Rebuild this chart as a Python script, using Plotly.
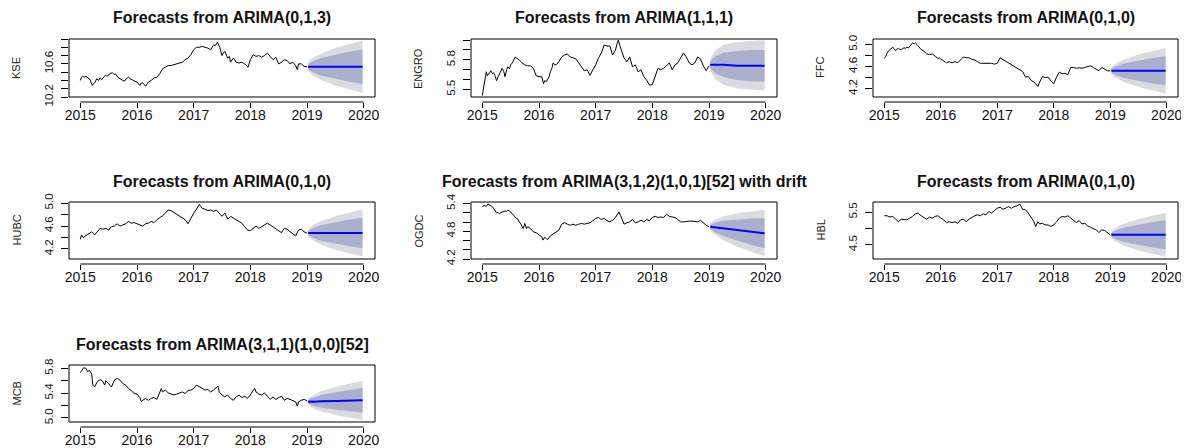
import plotly.graph_objects as go

# page body has an 8px margin, so the figure is offset by 8px in the 1189x448 window
OFF = 8
FW, FH = 1181, 440

# ---------------- data ----------------
KSE_t = [2015.0, 2015.02, 2015.04, 2015.07, 2015.1, 2015.14, 2015.17, 2015.21, 2015.24, 2015.26,
         2015.29, 2015.32, 2015.35, 2015.38, 2015.41, 2015.44, 2015.47, 2015.5, 2015.54, 2015.57,
         2015.6, 2015.62, 2015.66, 2015.7, 2015.74, 2015.78, 2015.81, 2015.85, 2015.88, 2015.92,
         2015.96, 2016.0, 2016.03, 2016.05, 2016.08, 2016.1, 2016.13, 2016.15, 2016.18, 2016.2,
         2016.25, 2016.3, 2016.35, 2016.4, 2016.45, 2016.5, 2016.55, 2016.6, 2016.65, 2016.7,
         2016.75, 2016.8, 2016.85, 2016.9, 2016.95, 2017.0, 2017.05, 2017.1, 2017.15, 2017.2,
         2017.25, 2017.3, 2017.35, 2017.38, 2017.42, 2017.46, 2017.5, 2017.53, 2017.55, 2017.6,
         2017.63, 2017.65, 2017.7, 2017.75, 2017.8, 2017.85, 2017.9, 2017.96, 2018.0, 2018.05,
         2018.1, 2018.15, 2018.2, 2018.25, 2018.3, 2018.35, 2018.4, 2018.45, 2018.5, 2018.55,
         2018.6, 2018.65, 2018.7, 2018.75, 2018.8, 2018.83, 2018.85, 2018.9, 2018.95, 2019.0]
KSE_v = [10.40, 10.44, 10.45, 10.44, 10.45, 10.43, 10.41, 10.34, 10.36, 10.38,
         10.42, 10.40, 10.43, 10.41, 10.44, 10.46, 10.45, 10.47, 10.49, 10.49,
         10.47, 10.48, 10.44, 10.42, 10.40, 10.39, 10.42, 10.44, 10.42, 10.40,
         10.39, 10.38, 10.36, 10.34, 10.37, 10.37, 10.35, 10.33, 10.36, 10.38,
         10.40, 10.43, 10.44, 10.48, 10.54, 10.56, 10.58, 10.58, 10.59, 10.60,
         10.61, 10.62, 10.65, 10.67, 10.71, 10.77, 10.80, 10.80, 10.81, 10.80,
         10.79, 10.77, 10.83, 10.82, 10.86, 10.80, 10.70, 10.74, 10.75, 10.67,
         10.69, 10.62, 10.67, 10.62, 10.61, 10.62, 10.60, 10.56, 10.65, 10.71,
         10.69, 10.70, 10.68, 10.70, 10.73, 10.69, 10.65, 10.68, 10.60, 10.62,
         10.65, 10.64, 10.60, 10.62, 10.58, 10.53, 10.60, 10.60, 10.57, 10.565]

ENGRO_t = [2015.0, 2015.02, 2015.04, 2015.05, 2015.07, 2015.09, 2015.1, 2015.13, 2015.15, 2015.18,
           2015.2, 2015.23, 2015.25, 2015.28, 2015.3, 2015.33, 2015.35, 2015.38, 2015.4, 2015.43,
           2015.45, 2015.48, 2015.5, 2015.53, 2015.55, 2015.58, 2015.6, 2015.63, 2015.65, 2015.7,
           2015.75, 2015.8, 2015.85, 2015.9, 2015.93, 2015.95, 2016.0, 2016.05, 2016.08, 2016.1,
           2016.13, 2016.15, 2016.18, 2016.2, 2016.23, 2016.25, 2016.28, 2016.3, 2016.35, 2016.4,
           2016.45, 2016.5, 2016.55, 2016.6, 2016.65, 2016.7, 2016.75, 2016.78, 2016.8, 2016.85,
           2016.88, 2016.9, 2016.95, 2017.0, 2017.05, 2017.1, 2017.15, 2017.2, 2017.25, 2017.3,
           2017.33, 2017.35, 2017.38, 2017.4, 2017.43, 2017.45, 2017.5, 2017.53, 2017.55, 2017.6,
           2017.63, 2017.65, 2017.7, 2017.73, 2017.75, 2017.8, 2017.83, 2017.85, 2017.9, 2017.95,
           2018.0, 2018.05, 2018.1, 2018.15, 2018.2, 2018.25, 2018.3, 2018.35, 2018.4, 2018.45,
           2018.5, 2018.55, 2018.6, 2018.65, 2018.7, 2018.75, 2018.8, 2018.85, 2018.9, 2018.95,
           2019.0]
ENGRO_v = [5.44, 5.51, 5.56, 5.60, 5.68, 5.64, 5.65, 5.68, 5.69, 5.66,
           5.67, 5.63, 5.59, 5.63, 5.65, 5.69, 5.715, 5.68, 5.63, 5.70,
           5.73, 5.71, 5.75, 5.77, 5.79, 5.83, 5.82, 5.81, 5.80, 5.77,
           5.75, 5.74, 5.74, 5.715, 5.68, 5.64, 5.63, 5.63, 5.56, 5.59,
           5.58, 5.595, 5.63, 5.68, 5.72, 5.77, 5.75, 5.75, 5.78, 5.83,
           5.85, 5.86, 5.83, 5.82, 5.81, 5.77, 5.73, 5.71, 5.69, 5.70,
           5.66, 5.645, 5.70, 5.75, 5.82, 5.87, 5.95, 5.94, 5.94, 5.85,
           5.88, 5.90, 5.97, 6.00, 5.94, 5.90, 5.82, 5.80, 5.78, 5.83,
           5.78, 5.73, 5.75, 5.70, 5.68, 5.70, 5.65, 5.63, 5.595, 5.545,
           5.55, 5.63, 5.715, 5.70, 5.715, 5.74, 5.77, 5.70, 5.75, 5.77,
           5.82, 5.87, 5.83, 5.77, 5.75, 5.77, 5.83, 5.81, 5.74, 5.69,
           5.74]

FFC_t = [2015.0, 2015.03, 2015.05, 2015.07, 2015.1, 2015.13, 2015.15, 2015.18, 2015.2, 2015.23,
         2015.25, 2015.28, 2015.3, 2015.33, 2015.35, 2015.38, 2015.4, 2015.43, 2015.45, 2015.48,
         2015.5, 2015.53, 2015.55, 2015.58, 2015.6, 2015.65, 2015.7, 2015.75, 2015.8, 2015.85,
         2015.9, 2015.95, 2015.98, 2016.0, 2016.03, 2016.05, 2016.08, 2016.1, 2016.15, 2016.2,
         2016.25, 2016.3, 2016.35, 2016.4, 2016.45, 2016.5, 2016.55, 2016.6, 2016.65, 2016.7,
         2016.75, 2016.8, 2016.85, 2016.9, 2016.95, 2017.0, 2017.05, 2017.1, 2017.15, 2017.2,
         2017.25, 2017.3, 2017.35, 2017.4, 2017.45, 2017.48, 2017.5, 2017.55, 2017.6, 2017.65,
         2017.7, 2017.72, 2017.75, 2017.8, 2017.85, 2017.9, 2017.95, 2018.0, 2018.05, 2018.1,
         2018.15, 2018.2, 2018.25, 2018.3, 2018.35, 2018.4, 2018.45, 2018.5, 2018.55, 2018.6,
         2018.65, 2018.7, 2018.75, 2018.8, 2018.85, 2018.9, 2018.95, 2019.0]
FFC_v = [4.75, 4.79, 4.84, 4.88, 4.91, 4.93, 4.95, 4.92, 4.89, 4.92,
         4.93, 4.91, 4.91, 4.93, 4.94, 4.93, 4.95, 4.94, 4.97, 5.00,
         5.03, 5.01, 5.03, 5.00, 4.97, 4.91, 4.88, 4.83, 4.82, 4.83,
         4.79, 4.75, 4.76, 4.73, 4.72, 4.70, 4.68, 4.67, 4.69, 4.67,
         4.69, 4.67, 4.72, 4.775, 4.76, 4.76, 4.73, 4.72, 4.69, 4.66,
         4.66, 4.66, 4.66, 4.66, 4.645, 4.66, 4.76, 4.73, 4.70, 4.67,
         4.63, 4.60, 4.585, 4.555, 4.51, 4.45, 4.41, 4.42, 4.35, 4.32,
         4.26, 4.24, 4.32, 4.42, 4.40, 4.41, 4.34, 4.29, 4.41, 4.50,
         4.47, 4.48, 4.455, 4.585, 4.585, 4.57, 4.58, 4.57, 4.585, 4.60,
         4.615, 4.585, 4.555, 4.525, 4.585, 4.555, 4.525, 4.525]

HUBC_t = [2015.0, 2015.02, 2015.05, 2015.08, 2015.1, 2015.13, 2015.15, 2015.18, 2015.2, 2015.23,
          2015.25, 2015.28, 2015.3, 2015.33, 2015.35, 2015.38, 2015.4, 2015.45, 2015.5, 2015.55,
          2015.6, 2015.65, 2015.7, 2015.75, 2015.8, 2015.85, 2015.9, 2015.95, 2016.0, 2016.05,
          2016.1, 2016.15, 2016.2, 2016.25, 2016.3, 2016.35, 2016.4, 2016.45, 2016.5, 2016.55,
          2016.6, 2016.65, 2016.7, 2016.75, 2016.8, 2016.85, 2016.9, 2016.95, 2017.0, 2017.05,
          2017.1, 2017.13, 2017.15, 2017.2, 2017.25, 2017.3, 2017.35, 2017.4, 2017.45, 2017.5,
          2017.55, 2017.6, 2017.65, 2017.7, 2017.75, 2017.8, 2017.85, 2017.9, 2017.95, 2018.0,
          2018.05, 2018.1, 2018.15, 2018.2, 2018.25, 2018.3, 2018.35, 2018.4, 2018.45, 2018.5,
          2018.55, 2018.6, 2018.65, 2018.7, 2018.75, 2018.8, 2018.85, 2018.9, 2018.95, 2019.0]
HUBC_v = [4.37, 4.445, 4.40, 4.42, 4.43, 4.44, 4.46, 4.48, 4.50, 4.47,
          4.445, 4.48, 4.50, 4.54, 4.56, 4.55, 4.545, 4.56, 4.53, 4.59,
          4.60, 4.64, 4.60, 4.62, 4.64, 4.68, 4.65, 4.66, 4.64, 4.62,
          4.60, 4.64, 4.65, 4.68, 4.66, 4.71, 4.74, 4.78, 4.825, 4.88,
          4.87, 4.84, 4.81, 4.77, 4.74, 4.71, 4.64, 4.74, 4.825, 4.895,
          4.98, 4.94, 4.91, 4.895, 4.87, 4.88, 4.855, 4.88, 4.825, 4.77,
          4.825, 4.72, 4.77, 4.74, 4.70, 4.68, 4.65, 4.59, 4.53, 4.52,
          4.56, 4.60, 4.56, 4.59, 4.62, 4.65, 4.62, 4.59, 4.56, 4.53,
          4.485, 4.56, 4.545, 4.50, 4.46, 4.43, 4.53, 4.545, 4.50, 4.475]

OGDC_t = [2015.0, 2015.03, 2015.05, 2015.07, 2015.1, 2015.13, 2015.15, 2015.18, 2015.2, 2015.23,
          2015.25, 2015.28, 2015.3, 2015.33, 2015.35, 2015.38, 2015.4, 2015.43, 2015.45, 2015.48,
          2015.5, 2015.55, 2015.6, 2015.63, 2015.65, 2015.68, 2015.7, 2015.72, 2015.75, 2015.78,
          2015.8, 2015.83, 2015.85, 2015.9, 2015.95, 2016.0, 2016.05, 2016.07, 2016.1, 2016.13,
          2016.15, 2016.2, 2016.25, 2016.3, 2016.35, 2016.4, 2016.45, 2016.5, 2016.55, 2016.6,
          2016.65, 2016.7, 2016.75, 2016.8, 2016.85, 2016.9, 2016.95, 2017.0, 2017.05, 2017.1,
          2017.15, 2017.2, 2017.25, 2017.3, 2017.35, 2017.38, 2017.41, 2017.44, 2017.47, 2017.5,
          2017.55, 2017.6, 2017.65, 2017.7, 2017.75, 2017.8, 2017.85, 2017.9, 2017.95, 2018.0,
          2018.05, 2018.1, 2018.15, 2018.2, 2018.25, 2018.3, 2018.35, 2018.4, 2018.45, 2018.5,
          2018.55, 2018.6, 2018.65, 2018.7, 2018.75, 2018.8, 2018.85, 2018.9, 2018.95, 2019.0]
OGDC_v = [5.33, 5.36, 5.35, 5.34, 5.39, 5.37, 5.36, 5.33, 5.29, 5.24,
          5.20, 5.21, 5.18, 5.21, 5.22, 5.22, 5.24, 5.23, 5.26, 5.24,
          5.22, 5.15, 5.08, 5.06, 5.005, 4.96, 4.90, 4.86, 4.97, 4.86,
          4.90, 4.88, 4.86, 4.79, 4.77, 4.72, 4.68, 4.61, 4.67, 4.64,
          4.62, 4.70, 4.74, 4.77, 4.825, 4.955, 4.985, 4.955, 4.93, 4.955,
          4.93, 4.955, 4.97, 4.955, 4.97, 4.985, 5.03, 5.08, 5.10, 5.055,
          5.08, 5.03, 5.005, 5.04, 5.10, 5.17, 5.22, 5.14, 5.04, 4.955,
          4.985, 5.005, 5.055, 4.985, 5.005, 5.04, 5.005, 5.055, 5.03, 5.10,
          5.125, 5.10, 5.11, 5.10, 5.17, 5.125, 5.11, 5.10, 5.055, 5.005,
          5.005, 5.02, 5.02, 5.02, 5.02, 5.005, 5.04, 4.985, 4.93, 4.90]

HBL_t = [2015.0, 2015.05, 2015.1, 2015.15, 2015.2, 2015.25, 2015.3, 2015.35, 2015.4, 2015.45,
         2015.5, 2015.55, 2015.6, 2015.65, 2015.7, 2015.75, 2015.8, 2015.85, 2015.9, 2015.95,
         2016.0, 2016.05, 2016.1, 2016.15, 2016.2, 2016.25, 2016.3, 2016.35, 2016.4, 2016.45,
         2016.5, 2016.55, 2016.6, 2016.65, 2016.7, 2016.75, 2016.8, 2016.85, 2016.9, 2016.95,
         2017.0, 2017.05, 2017.1, 2017.15, 2017.2, 2017.25, 2017.3, 2017.35, 2017.4, 2017.45,
         2017.5, 2017.55, 2017.6, 2017.65, 2017.68, 2017.72, 2017.75, 2017.8, 2017.85, 2017.9,
         2017.95, 2018.0, 2018.05, 2018.1, 2018.15, 2018.2, 2018.25, 2018.3, 2018.35, 2018.4,
         2018.45, 2018.5, 2018.55, 2018.6, 2018.65, 2018.7, 2018.75, 2018.8, 2018.85, 2018.9,
         2018.95, 2019.0]
HBL_v = [5.39, 5.39, 5.35, 5.37, 5.285, 5.21, 5.285, 5.285, 5.265, 5.32,
         5.37, 5.45, 5.47, 5.39, 5.35, 5.285, 5.35, 5.32, 5.37, 5.39,
         5.32, 5.265, 5.18, 5.21, 5.18, 5.21, 5.16, 5.265, 5.285, 5.21,
         5.285, 5.35, 5.39, 5.42, 5.39, 5.45, 5.42, 5.52, 5.47, 5.55,
         5.62, 5.65, 5.59, 5.62, 5.67, 5.62, 5.67, 5.69, 5.745, 5.59,
         5.57, 5.47, 5.32, 5.21, 5.06, 5.21, 5.14, 5.16, 5.11, 5.11,
         5.06, 5.11, 5.21, 5.32, 5.37, 5.35, 5.39, 5.32, 5.265, 5.18,
         5.245, 5.14, 5.16, 5.08, 5.04, 5.01, 4.96, 4.88, 4.96, 4.94,
         4.86, 4.81]

MCB_t = [2015.0, 2015.03, 2015.06, 2015.1, 2015.13, 2015.16, 2015.2, 2015.22, 2015.25, 2015.3,
         2015.35, 2015.4, 2015.43, 2015.45, 2015.5, 2015.55, 2015.6, 2015.65, 2015.7, 2015.75,
         2015.8, 2015.85, 2015.9, 2015.95, 2016.0, 2016.05, 2016.08, 2016.1, 2016.15, 2016.2,
         2016.25, 2016.3, 2016.35, 2016.4, 2016.43, 2016.45, 2016.5, 2016.55, 2016.6, 2016.65,
         2016.7, 2016.75, 2016.8, 2016.85, 2016.9, 2016.95, 2017.0, 2017.05, 2017.1, 2017.15,
         2017.2, 2017.25, 2017.3, 2017.35, 2017.4, 2017.43, 2017.45, 2017.5, 2017.55, 2017.6,
         2017.65, 2017.7, 2017.75, 2017.8, 2017.85, 2017.9, 2017.95, 2018.0, 2018.05, 2018.08,
         2018.1, 2018.15, 2018.2, 2018.25, 2018.3, 2018.35, 2018.4, 2018.45, 2018.5, 2018.55,
         2018.6, 2018.65, 2018.7, 2018.75, 2018.8, 2018.83, 2018.85, 2018.9, 2018.95, 2019.0]
MCB_v = [5.73, 5.77, 5.81, 5.80, 5.745, 5.77, 5.71, 5.53, 5.50, 5.585,
         5.62, 5.585, 5.53, 5.60, 5.555, 5.50, 5.61, 5.64, 5.61, 5.555,
         5.53, 5.475, 5.44, 5.395, 5.385, 5.33, 5.26, 5.285, 5.315, 5.285,
         5.315, 5.33, 5.30, 5.42, 5.475, 5.42, 5.45, 5.405, 5.385, 5.37,
         5.385, 5.405, 5.42, 5.395, 5.44, 5.45, 5.475, 5.53, 5.50, 5.475,
         5.45, 5.46, 5.42, 5.45, 5.50, 5.515, 5.42, 5.37, 5.34, 5.37,
         5.315, 5.285, 5.34, 5.37, 5.33, 5.35, 5.315, 5.37, 5.45, 5.475,
         5.42, 5.385, 5.37, 5.405, 5.35, 5.30, 5.34, 5.30, 5.33, 5.35,
         5.285, 5.315, 5.30, 5.285, 5.26, 5.19, 5.26, 5.285, 5.30, 5.275]

# forecast horizon points (2019 -> 2020)
FC_T = [2019.02, 2019.06, 2019.12, 2019.25, 2019.5, 2019.75, 2019.98]

KSE_mean = [10.565, 10.565, 10.565, 10.565, 10.565, 10.565, 10.565]
KSE_hi95 = [10.61, 10.643, 10.676, 10.725, 10.791, 10.842, 10.882]
KSE_lo95 = [10.52, 10.487, 10.454, 10.405, 10.339, 10.288, 10.248]
KSE_hi80 = [10.595, 10.616, 10.638, 10.67, 10.713, 10.747, 10.773]
KSE_lo80 = [10.535, 10.514, 10.492, 10.46, 10.417, 10.383, 10.357]

ENGRO_mean = [5.75, 5.75, 5.75, 5.75, 5.74, 5.74, 5.74]
ENGRO_hi95 = [5.80, 5.85, 5.90, 5.95, 5.98, 5.99, 6.00]
ENGRO_lo95 = [5.70, 5.65, 5.60, 5.55, 5.51, 5.50, 5.49]
ENGRO_hi80 = [5.78, 5.81, 5.84, 5.87, 5.89, 5.90, 5.90]
ENGRO_lo80 = [5.72, 5.69, 5.66, 5.63, 5.595, 5.585, 5.58]

FFC_mean = [4.525, 4.525, 4.525, 4.525, 4.525, 4.525, 4.525]
FFC_hi95 = [4.584, 4.627, 4.669, 4.733, 4.818, 4.884, 4.936]
FFC_lo95 = [4.466, 4.423, 4.381, 4.317, 4.232, 4.166, 4.114]
FFC_hi80 = [4.562, 4.59, 4.617, 4.658, 4.712, 4.754, 4.787]
FFC_lo80 = [4.488, 4.46, 4.433, 4.392, 4.338, 4.296, 4.263]

HUBC_mean = [4.48, 4.48, 4.48, 4.48, 4.48, 4.48, 4.48]
HUBC_hi95 = [4.539, 4.582, 4.624, 4.688, 4.773, 4.839, 4.891]
HUBC_lo95 = [4.421, 4.378, 4.336, 4.272, 4.187, 4.121, 4.069]
HUBC_hi80 = [4.518, 4.546, 4.573, 4.615, 4.671, 4.714, 4.747]
HUBC_lo80 = [4.442, 4.414, 4.387, 4.345, 4.289, 4.246, 4.213]

OGDC_mean = [4.897, 4.891, 4.883, 4.864, 4.828, 4.791, 4.758]
OGDC_hi95 = [4.969, 5.016, 5.059, 5.119, 5.189, 5.233, 5.263]
OGDC_lo95 = [4.825, 4.766, 4.707, 4.609, 4.467, 4.349, 4.253]
OGDC_hi80 = [4.944, 4.972, 4.997, 5.029, 5.061, 5.077, 5.085]
OGDC_lo80 = [4.85, 4.81, 4.769, 4.699, 4.595, 4.505, 4.431]

HBL_mean = [4.81, 4.81, 4.81, 4.81, 4.81, 4.81, 4.81]
HBL_hi95 = [4.906, 4.977, 5.045, 5.15, 5.291, 5.399, 5.483]
HBL_lo95 = [4.714, 4.643, 4.575, 4.47, 4.329, 4.221, 4.137]
HBL_hi80 = [4.873, 4.92, 4.966, 5.035, 5.128, 5.2, 5.256]
HBL_lo80 = [4.747, 4.7, 4.654, 4.585, 4.492, 4.42, 4.364]

MCB_mean = [5.26, 5.265, 5.26, 5.27, 5.275, 5.28, 5.285]
MCB_hi95 = [5.305, 5.343, 5.371, 5.43, 5.501, 5.557, 5.602]
MCB_lo95 = [5.215, 5.187, 5.149, 5.11, 5.049, 5.003, 4.968]
MCB_hi80 = [5.288, 5.314, 5.329, 5.37, 5.416, 5.453, 5.483]
MCB_lo80 = [5.232, 5.216, 5.191, 5.17, 5.134, 5.107, 5.087]

TITLES = ["Forecasts from ARIMA(0,1,3)", "Forecasts from ARIMA(1,1,1)", "Forecasts from ARIMA(0,1,0)",
          "Forecasts from ARIMA(0,1,0)", "Forecasts from ARIMA(3,1,2)(1,0,1)[52] with drift",
          "Forecasts from ARIMA(0,1,0)", "Forecasts from ARIMA(3,1,1)(1,0,0)[52]"]
YLABELS = ["KSE", "ENGRO", "FFC", "HUBC", "OGDC", "HBL", "MCB"]
X_TICKS = [2015, 2016, 2017, 2018, 2019, 2020]

# y tick positions and which get a label
Y_TICKS = [
    ([10.2, 10.3, 10.4, 10.5, 10.6, 10.7, 10.8, 10.9], ["10.2", "", "", "", "10.6", "", "", ""]),
    ([5.5, 5.6, 5.7, 5.8, 5.9, 6.0], ["5.5", "", "", "5.8", "", ""]),
    ([4.2, 4.4, 4.6, 4.8, 5.0], ["4.2", "", "4.6", "", "5.0"]),
    ([4.2, 4.4, 4.6, 4.8, 5.0], ["4.2", "", "4.6", "", "5.0"]),
    ([4.2, 4.4, 4.6, 4.8, 5.0, 5.2, 5.4], ["4.2", "", "", "4.8", "", "", "5.4"]),
    ([4.5, 5.0, 5.5], ["4.5", "", "5.5"]),
    ([5.0, 5.2, 5.4, 5.6, 5.8], ["5.0", "", "5.4", "", "5.8"]),
]
Y_RANGES = [[10.2, 10.9], [5.425, 6.011], [4.05, 5.10], [4.025, 5.02],
            [4.2, 5.435], [4.07, 5.81], [4.935, 5.854]]

SERIES = [
    (KSE_t, KSE_v, KSE_mean, KSE_lo80, KSE_hi80, KSE_lo95, KSE_hi95),
    (ENGRO_t, ENGRO_v, ENGRO_mean, ENGRO_lo80, ENGRO_hi80, ENGRO_lo95, ENGRO_hi95),
    (FFC_t, FFC_v, FFC_mean, FFC_lo80, FFC_hi80, FFC_lo95, FFC_hi95),
    (HUBC_t, HUBC_v, HUBC_mean, HUBC_lo80, HUBC_hi80, HUBC_lo95, HUBC_hi95),
    (OGDC_t, OGDC_v, OGDC_mean, OGDC_lo80, OGDC_hi80, OGDC_lo95, OGDC_hi95),
    (HBL_t, HBL_v, HBL_mean, HBL_lo80, HBL_hi80, HBL_lo95, HBL_hi95),
    (MCB_t, MCB_v, MCB_mean, MCB_lo80, MCB_hi80, MCB_lo95, MCB_hi95),
]

# ---------------- layout geometry (window pixels) ----------------
COL_X = [(69, 375), (471, 777), (873, 1178)]
ROW_Y = [(39, 97), (202, 259), (365, 422)]
TITLE_Y = [17, 181, 344]


def fx(px):
    return (px - OFF) / FW


def fy(py):
    return 1 - (py - OFF) / FH


C95 = "#DADAE1"
C80 = "#AAAFCC"
FONT = "Liberation Sans, Arial, sans-serif"

fig = go.Figure()
layout = dict(template="none", width=FW, height=FH, margin=dict(l=0, r=0, t=0, b=0, pad=0),
              autosize=False, paper_bgcolor="white", plot_bgcolor="white", showlegend=False,
              shapes=[], annotations=[])

for i, (t, v, mu, lo80, hi80, lo95, hi95) in enumerate(SERIES):
    r, c = divmod(i, 3)
    n = i + 1
    xa = "x" if n == 1 else f"x{n}"
    ya = "y" if n == 1 else f"y{n}"
    xl, xr = COL_X[c]
    yt, yb = ROW_Y[r]
    axis_y = fy(yb + 5)

    fig.add_trace(go.Scatter(x=FC_T + FC_T[::-1], y=hi95 + lo95[::-1], fill="toself",
                             fillcolor=C95, line=dict(width=0), mode="lines",
                             xaxis=xa, yaxis=ya, hoverinfo="skip"))
    fig.add_trace(go.Scatter(x=FC_T + FC_T[::-1], y=hi80 + lo80[::-1], fill="toself",
                             fillcolor=C80, line=dict(width=0), mode="lines",
                             xaxis=xa, yaxis=ya, hoverinfo="skip"))
    fig.add_trace(go.Scatter(x=t, y=v, mode="lines", line=dict(color="black", width=1),
                             xaxis=xa, yaxis=ya))
    fig.add_trace(go.Scatter(x=FC_T, y=mu, mode="lines", line=dict(color="#0000FF", width=2),
                             xaxis=xa, yaxis=ya))

    xkey = "xaxis" if n == 1 else f"xaxis{n}"
    ykey = "yaxis" if n == 1 else f"yaxis{n}"
    layout[xkey] = dict(domain=[fx(xl), fx(xr)], range=[2014.8, 2020.2], anchor="free",
                        position=axis_y, tickvals=X_TICKS, ticktext=[str(x) for x in X_TICKS],
                        ticks="outside", ticklen=5, tickcolor="black", tickwidth=1,
                        showline=False, showgrid=False, zeroline=False, automargin=False,
                        ticklabelstandoff=-5,
                        tickfont=dict(family=FONT, size=14, color="#111"))
    tv, tt = Y_TICKS[i]
    layout[ykey] = dict(domain=[fy(yb), fy(yt)], range=Y_RANGES[i], anchor=xa,
                        tickvals=tv, ticktext=tt, ticks="outside", ticklen=7, tickcolor="black",
                        tickwidth=1, tickangle=-90, showline=False, showgrid=False,
                        zeroline=False, automargin=False, ticklabelstandoff=3,
                        tickfont=dict(family=FONT, size=11.5, color="#111"))
    # plot box
    layout["shapes"].append(dict(type="rect", xref=f"{xa} domain", yref=f"{ya} domain",
                                 x0=0, x1=1, y0=0, y1=1, line=dict(color="black", width=1),
                                 layer="above"))
    # x axis line from first to last tick
    layout["shapes"].append(dict(type="line", xref=xa, yref="paper", x0=X_TICKS[0],
                                 x1=X_TICKS[-1], y0=axis_y, y1=axis_y,
                                 line=dict(color="black", width=1)))
    # title
    layout["annotations"].append(dict(text=f"<b>{TITLES[i]}</b>", xref="paper", yref="paper",
                                      x=fx((xl + xr) / 2), y=fy(TITLE_Y[r]), showarrow=False,
                                      xanchor="center", yanchor="middle",
                                      font=dict(family=FONT, size=16, color="#111")))
    # y label
    layout["annotations"].append(dict(text=YLABELS[i], xref="paper", yref="paper",
                                      x=fx(xl - 53), y=fy((yt + yb) / 2), showarrow=False,
                                      textangle=-90, xanchor="center", yanchor="middle",
                                      font=dict(family=FONT, size=11, color="#222")))

fig.update_layout(**layout)
fig.write_html("out.html")
